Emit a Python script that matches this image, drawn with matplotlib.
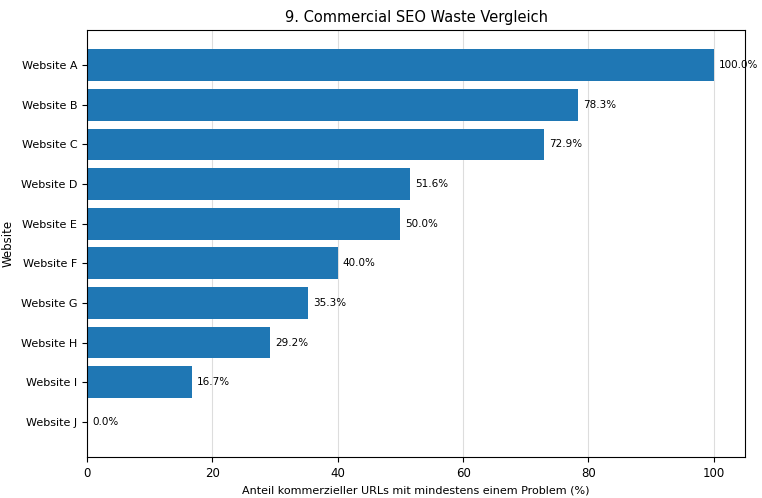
import matplotlib
matplotlib.use("Agg")
import matplotlib.pyplot as plt

sites = ["Website A","Website B","Website C","Website D","Website E","Website F","Website G","Website H","Website I","Website J"]
values = [100.0,78.3,72.9,51.6,50.0,40.0,35.3,29.2,16.7,0.0]

fig, ax = plt.subplots(figsize=(7.62,4.98), dpi=100)
y = list(range(len(sites)))
ax.barh(y, values, color="#1f77b4", height=0.8, zorder=2)
for yi, v in zip(y, values):
    ax.text(v+0.8, yi, f"{v:.1f}%", va="center", ha="left", fontsize=7.5)
ax.set_yticks(y)
ax.set_yticklabels(sites, fontsize=8)
ax.invert_yaxis()
ax.set_xlim(0,105)
ax.tick_params(axis="x", labelsize=8.5)
ax.xaxis.grid(True, color="#dddddd", linewidth=0.8, zorder=0)
ax.set_axisbelow(True)
ax.set_xlabel("Anteil kommerzieller URLs mit mindestens einem Problem (%)", fontsize=8)
ax.set_ylabel("Website", fontsize=8.5)
ax.set_title("9. Commercial SEO Waste Vergleich", fontsize=10.5)
plt.subplots_adjust(left=0.114, right=0.978, top=0.94, bottom=0.082)
fig.savefig("out.png", dpi=100)
